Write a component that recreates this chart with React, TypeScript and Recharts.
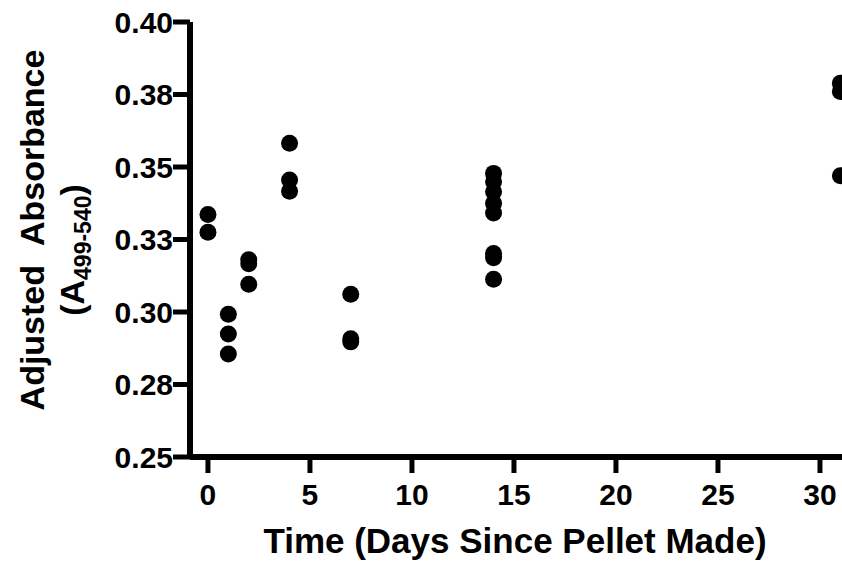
import React from 'react';
import { ScatterChart, Scatter, XAxis, YAxis } from 'recharts';

const days = [0, 1, 2, 4, 7, 14, 31];
const absorbanceByDay = [
  [0.3336, 0.3275],
  [0.2992, 0.2924, 0.2855],
  [0.318, 0.3166, 0.3096],
  [0.3582, 0.3455, 0.3416],
  [0.3061, 0.2908, 0.2897],
  [0.3478, 0.3449, 0.3415, 0.3375, 0.3341, 0.3202, 0.3187, 0.3113],
  [0.3789, 0.376, 0.347],
];
const xTicks = [0, 5, 10, 15, 20, 25, 30];
const yTicks = [0.25, 0.275, 0.3, 0.325, 0.35, 0.375, 0.4];
const yTickLabels = ['0.25', '0.28', '0.30', '0.33', '0.35', '0.38', '0.40'];
const xTitle = 'Time (Days Since Pellet Made)';
const yTitle = 'Adjusted\u00A0\u00A0Absorbance';
const yTitle2Main = '(A';
const yTitle2Sub = '499-540';
const yTitle2End = ')';

const points = days.flatMap((d, i) => absorbanceByDay[i].map((v) => ({ x: d, y: v })));

const FONT = '"Liberation Sans", Arial, Helvetica, sans-serif';

const YTitle = () => (
  <g>
    <text
      x={44}
      y={230}
      transform="rotate(-90, 44, 230)"
      textAnchor="middle"
      fontFamily={FONT}
      fontWeight="bold"
      fontSize={34}
      fill="#000"
    >
      {yTitle}
    </text>
    <text
      x={84}
      y={250}
      transform="rotate(-90, 84, 250)"
      textAnchor="middle"
      fontFamily={FONT}
      fontWeight="bold"
      fontSize={34}
      fill="#000"
    >
      {yTitle2Main}
      <tspan fontSize={23} dy={7}>{yTitle2Sub}</tspan>
      <tspan dy={-7}>{yTitle2End}</tspan>
    </text>
  </g>
);

const XTitle = () => (
  <text
    x={515}
    y={553}
    textAnchor="middle"
    fontFamily={FONT}
    fontWeight="bold"
    fontSize={35}
    fill="#000"
  >
    {xTitle}
  </text>
);

const Dot = (props: any) => {
  const { cx, cy } = props;
  if (cx == null || cy == null) return null;
  return <circle cx={cx} cy={cy} r={8.5} fill="#000" />;
};

const tickStyle = { fill: '#000', fontSize: 30, fontWeight: 'bold', fontFamily: FONT };

export default function App() {
  return (
    <div style={{ position: 'absolute', left: 0, top: 0, width: 842, height: 561, overflow: 'hidden', background: '#fff' }}>
      <ScatterChart width={842} height={561} margin={{ top: 22, right: 0, bottom: 0, left: 0 }}>
        <XAxis
          type="number"
          dataKey="x"
          domain={[-0.88, 31.08]}
          allowDataOverflow
          ticks={xTicks}
          interval={0}
          height={104}
          tickSize={16}
          tickMargin={11}
          axisLine={{ stroke: '#000', strokeWidth: 6 }}
          tickLine={{ stroke: '#000', strokeWidth: 5 }}
          tick={tickStyle}
          label={<XTitle />}
        />
        <YAxis
          type="number"
          dataKey="y"
          domain={[0.25, 0.4]}
          allowDataOverflow
          ticks={yTicks}
          interval={0}
          width={190}
          tickSize={17}
          tickMargin={0}
          tickFormatter={(v: number) => {
            const i = yTicks.findIndex((t) => Math.abs(t - v) < 1e-9);
            return i >= 0 ? yTickLabels[i] : String(v);
          }}
          axisLine={{ stroke: '#000', strokeWidth: 6 }}
          tickLine={{ stroke: '#000', strokeWidth: 5 }}
          tick={tickStyle}
          label={<YTitle />}
        />
        <Scatter data={points} fill="#000" shape={<Dot />} isAnimationActive={false} />
      </ScatterChart>
    </div>
  );
}
